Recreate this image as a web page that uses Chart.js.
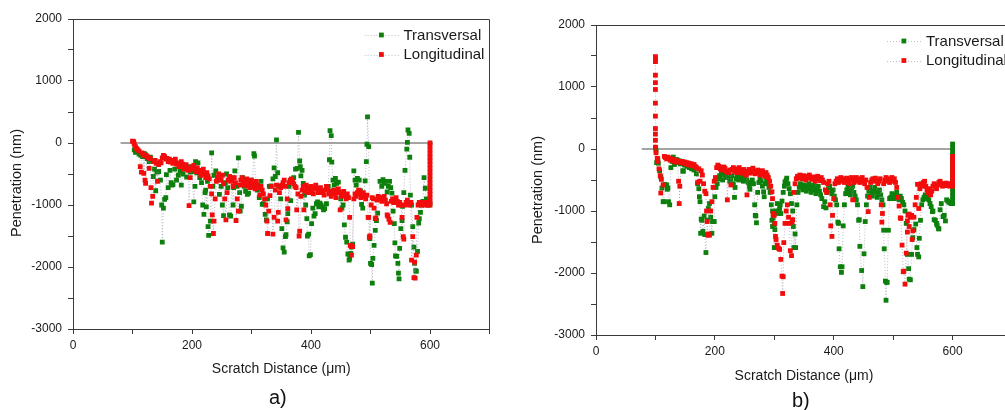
<!DOCTYPE html>
<html>
<head>
<meta charset="utf-8">
<script src="https://cdn.jsdelivr.net/npm/chart.js@4.4.1/dist/chart.umd.min.js"></script>
<style>
  html, body { margin: 0; padding: 0; background: #fff; width: 1005px; height: 410px; overflow: hidden; position: relative; }
  canvas { position: absolute; top: 0; }
  #chartA { left: 0; }
  #chartB { left: 520px; }
  .tag { position: absolute; font: 20px "Liberation Sans", Arial, sans-serif; line-height: 20px; color: #111; }
</style>
</head>
<body>
<canvas id="chartA" width="500" height="410"></canvas>
<canvas id="chartB" width="510" height="410"></canvas>
<div class="tag" style="left:269px;top:387px">a)</div>
<div class="tag" style="left:792px;top:390px">b)</div>
<script>
// Scratch test penetration profiles: [distance µm, penetration nm]
const seriesNames = ['Transversal', 'Longitudinal'];
const xTicksLabelled = [0, 200, 400, 600];
const yTicksLabelled = [-3000, -2000, -1000, 0, 1000, 2000];

// Sample a)
const aTransversal = [
  [103,-110],[105,-150],[108,-140],[111,-180],[114,-200],[117,-220],[120,-170],[122,-190],[125,-250],[128,-300],
  [130,-230],[133,-300],[135,-540],[137,-420],[139,-770],[141,-470],[144,-460],[147,-600],[149,-1000],[150,-1600],
  [152,-1050],[154,-910],[156,-880],[157,-510],[160,-720],[163,-440],[165,-640],[166,-680],[168,-670],[171,-420],
  [174,-600],[177,-520],[180,-450],[182,-680],[185,-500],[188,-420],[191,-550],[194,-380],[197,-470],[200,-460],
  [203,-950],[205,-700],[206,-300],[208,-480],[210,-320],[213,-560],[216,-640],[218,-1000],[220,-1150],[222,-800],
  [223,-760],[224,-1030],[226,-620],[227,-1350],[228,-1490],[231,-1260],[233,-160],[235,-700],[237,-520],[240,-450],
  [243,-600],[246,-830],[249,-700],[251,-1000],[253,-1170],[256,-640],[258,-500],[260,-720],[263,-1160],[265,-1180],
  [267,-560],[269,-1000],[270,-720],[272,-450],[275,-700],[278,-240],[280,-800],[281,-1100],[283,-1020],[285,-560],
  [288,-700],[290,-780],[293,-830],[295,-810],[298,-600],[301,-700],[304,-170],[305,-210],[307,-680],[310,-760],
  [313,-880],[316,-620],[318,-990],[320,-980],[323,-1150],[325,-1240],[327,-900],[330,-700],[333,-690],[336,-580],
  [338,-400],[340,-540],[342,50],[344,-480],[346,-700],[349,-900],[351,-1380],[353,-1690],[355,-1760],[357,-1510],
  [358,-1480],[360,-1270],[361,-1140],[363,-700],[366,-930],[368,-620],[371,-560],[374,-420],[377,-410],[379,170],
  [381,-290],[382,-380],[383,-530],[385,-440],[387,-650],[389,-840],[391,-1000],[393,-1220],[394,-1500],[396,-1470],
  [397,-1820],[399,-1800],[401,-1300],[403,-1050],[405,-1180],[407,-1140],[409,-980],[411,-950],[413,-1030],[415,-970],
  [417,-1000],[419,-1030],[421,-1080],[423,-1060],[426,-980],[429,-700],[431,-270],[432,200],[434,120],[435,-310],
  [437,-600],[439,-680],[441,-570],[443,-650],[446,-630],[448,-800],[450,-900],[452,-1050],[454,-1000],[456,-1320],
  [458,-1520],[460,-1600],[462,-1790],[464,-1890],[465,-1860],[467,-1780],[468,-1680],[470,-1630],[472,-450],[474,-600],
  [476,-680],[478,-570],[481,-600],[483,-770],[485,-990],[487,-1050],[489,-850],[491,-610],[493,-300],[494,-20],
  [495,420],[497,-60],[499,-1540],[500,-1940],[502,-1960],[503,-2260],[504,-1860],[506,-1650],[508,-1410],[510,-1250],
  [512,-1130],[514,-900],[516,-620],[519,-700],[521,-590],[523,-650],[525,-620],[528,-790],[530,-700],[532,-620],
  [534,-720],[536,-810],[538,-1100],[540,-1300],[541,-1610],[542,-1820],[544,-1830],[546,-1940],[547,-2100],[548,-2190],
  [549,-1700],[551,-1380],[553,-1250],[554,-1020],[556,-800],[558,-440],[561,-100],[562,10],[563,210],[565,155],
  [566,-230],[567,-840],[569,-1000],[571,-1350],[573,-1680],[574,-1940],[576,-2060],[577,-2070],[579,-1750],[581,-1290],
  [582,-1220],[584,-1120],[586,-1000],[588,-940],[590,-560],[592,-730],[594,-900],[596,-980],[598,-1000],[600,-980]
];
const aLongitudinal = [
  [100,30],[102,20],[103,-20],[105,-60],[107,-90],[109,-110],[111,-130],[113,-380],[115,-470],[116,-160],
  [118,-180],[119,-490],[120,-200],[121,-600],[122,-650],[124,-210],[126,-230],[128,-410],[130,-250],[131,-720],
  [132,-970],[134,-860],[136,-300],[138,-280],[140,-330],[142,-620],[144,-350],[146,-300],[148,-320],[150,-240],
  [152,-200],[154,-220],[156,-260],[158,-250],[160,-300],[162,-260],[164,-310],[166,-280],[168,-330],[170,-300],
  [172,-260],[174,-340],[176,-320],[178,-380],[180,-360],[182,-300],[184,-340],[186,-420],[188,-380],[190,-350],
  [192,-400],[194,-440],[195,-1010],[197,-560],[199,-420],[201,-380],[203,-360],[205,-420],[207,-460],[209,-400],
  [211,-440],[213,-480],[215,-520],[217,-450],[219,-420],[221,-500],[223,-560],[225,-480],[227,-530],[229,-580],
  [231,-700],[233,-820],[234,-1160],[236,-1460],[237,-1260],[239,-900],[241,-620],[243,-560],[245,-500],[247,-560],
  [249,-600],[251,-520],[253,-660],[255,-900],[257,-1240],[259,-800],[261,-600],[263,-540],[265,-620],[267,-580],
  [269,-700],[271,-560],[273,-640],[274,-1250],[276,-900],[278,-1100],[280,-680],[282,-600],[284,-560],[286,-640],
  [288,-680],[290,-620],[292,-580],[294,-700],[296,-640],[298,-720],[300,-600],[302,-660],[304,-700],[306,-740],
  [308,-620],[310,-680],[312,-720],[314,-840],[316,-700],[318,-760],[320,-820],[322,-900],[324,-1000],[326,-1260],
  [327,-1460],[329,-1100],[331,-850],[333,-700],[336,-1470],[338,-1200],[340,-760],[342,-680],[344,-1260],[345,-1120],
  [347,-800],[349,-720],[351,-680],[353,-640],[355,-600],[357,-700],[358,-1240],[360,-900],[361,-1060],[363,-640],
  [365,-600],[367,-580],[369,-620],[371,-660],[373,-700],[375,-720],[376,-1080],[378,-820],[380,-1500],[381,-1420],
  [383,-860],[385,-760],[387,-700],[388,-1080],[390,-780],[392,-680],[394,-720],[396,-800],[398,-750],[400,-700],
  [402,-760],[404,-820],[406,-720],[408,-680],[410,-740],[412,-800],[414,-760],[416,-720],[418,-800],[420,-780],
  [422,-840],[424,-760],[426,-700],[428,-740],[430,-820],[432,-780],[434,-860],[436,-800],[438,-760],[440,-820],
  [442,-880],[444,-780],[446,-740],[448,-800],[449,-1080],[451,-860],[453,-820],[455,-780],[457,-840],[459,-900],
  [461,-820],[463,-880],[465,-1200],[466,-1650],[467,-1660],[468,-1810],[470,-1670],[472,-900],[474,-820],[476,-860],
  [478,-800],[480,-760],[482,-820],[484,-880],[486,-840],[488,-800],[490,-860],[492,-900],[494,-840],[496,-1200],
  [497,-1200],[498,-1520],[499,-1500],[501,-1000],[503,-880],[505,-900],[506,-1050],[508,-1220],[509,-1210],[511,-920],
  [513,-860],[515,-900],[517,-880],[519,-940],[521,-900],[523,-860],[525,-920],[527,-980],[528,-1160],[529,-1180],
  [531,-1230],[533,-1280],[535,-940],[537,-900],[539,-960],[541,-920],[543,-880],[545,-940],[547,-1000],[549,-960],
  [551,-1000],[553,-1200],[555,-1510],[556,-1550],[558,-1000],[560,-960],[562,-920],[564,-980],[566,-1000],[568,-960],
  [569,-1890],[571,-1510],[573,-2170],[574,-1920],[575,-2180],[577,-1810],[578,-1200],[580,-1000],[582,-960],[584,-980],
  [586,-1000],[588,-960],[590,-980],[592,-1000],[594,-960],[596,-1000],[598,-980],[600,-1000],[600,-950],[600,-890],
  [600,-830],[600,-770],[600,-710],[600,-650],[600,-590],[600,-530],[600,-470],[600,-410],[600,-350],[600,-290],
  [600,-230],[600,-170],[600,-110],[600,-50],[600,0]
];
const aZeroSpan = [80, 605];

// Sample b)
const bTransversal = [
  [100,20],[101,-20],[102,-220],[104,-160],[105,-230],[107,-350],[109,-450],[111,-630],[113,-850],[114,-850],
  [116,-570],[119,-580],[120,-650],[121,-630],[122,-850],[124,-900],[126,-300],[128,-200],[130,-130],[132,-250],
  [134,-200],[136,-170],[138,-220],[140,-190],[142,-240],[144,-210],[146,-350],[147,-360],[149,-260],[151,-230],
  [153,-280],[155,-250],[157,-300],[159,-270],[161,-320],[163,-290],[165,-340],[167,-310],[169,-400],[171,-560],
  [173,-640],[174,-770],[175,-850],[176,-1360],[177,-1130],[178,-1150],[180,-1330],[182,-1080],[183,-1380],[185,-1670],
  [187,-1150],[189,-960],[191,-880],[193,-1100],[195,-1360],[196,-1170],[197,-1170],[199,-1170],[200,-770],[202,-620],
  [204,-560],[206,-480],[208,-430],[211,-390],[213,-500],[215,-420],[217,-360],[219,-460],[221,-400],[223,-440],
  [225,-520],[227,-480],[229,-430],[231,-560],[233,-780],[234,-620],[236,-480],[238,-420],[240,-500],[242,-450],
  [244,-400],[246,-460],[248,-520],[250,-480],[252,-420],[254,-500],[256,-540],[258,-600],[259,-650],[261,-560],
  [263,-500],[265,-560],[267,-900],[268,-1070],[269,-1080],[270,-1190],[272,-700],[274,-540],[276,-480],[278,-520],
  [280,-600],[282,-690],[283,-770],[285,-560],[287,-500],[289,-540],[291,-620],[293,-700],[295,-900],[296,-1150],
  [297,-1000],[297,-1250],[298,-1110],[300,-1590],[300,-1220],[301,-1300],[303,-1000],[305,-880],[307,-1040],[309,-960],
  [310,-900],[311,-1040],[313,-840],[315,-700],[317,-600],[318,-530],[320,-500],[321,-470],[323,-560],[325,-640],
  [327,-720],[329,-880],[331,-1000],[332,-1250],[333,-1590],[335,-1370],[336,-1590],[338,-900],[340,-700],[342,-620],
  [344,-560],[346,-600],[348,-660],[350,-580],[352,-620],[354,-680],[356,-600],[358,-560],[360,-640],[362,-700],
  [364,-620],[366,-580],[368,-660],[370,-720],[372,-640],[374,-600],[376,-680],[378,-740],[380,-800],[383,-930],
  [385,-850],[387,-950],[389,-700],[391,-640],[393,-600],[395,-680],[397,-720],[399,-660],[401,-760],[403,-820],
  [405,-900],[407,-1180],[408,-1200],[409,-1610],[411,-1900],[413,-1990],[414,-1900],[416,-1240],[418,-900],[420,-720],
  [422,-660],[424,-600],[426,-680],[428,-740],[430,-660],[432,-600],[434,-700],[436,-760],[438,-820],[440,-900],
  [442,-1150],[443,-1140],[444,-1570],[447,-1960],[449,-2220],[451,-1690],[453,-1170],[455,-900],[457,-760],[459,-680],
  [461,-620],[463,-700],[465,-760],[467,-680],[469,-620],[471,-700],[473,-780],[475,-720],[477,-660],[479,-740],
  [481,-820],[483,-900],[484,-1310],[485,-1610],[487,-2130],[488,-2440],[489,-2150],[490,-2150],[492,-1310],[494,-800],
  [496,-780],[498,-720],[500,-760],[502,-800],[504,-740],[506,-700],[508,-780],[510,-820],[512,-760],[514,-800],
  [516,-860],[518,-900],[520,-1000],[522,-1200],[524,-1700],[526,-1930],[527,-2100],[529,-2110],[531,-1700],[533,-1430],
  [535,-1300],[538,-1210],[540,-1590],[541,-1700],[543,-1740],[544,-1440],[546,-1150],[548,-900],[550,-820],[552,-780],
  [554,-740],[556,-800],[558,-760],[560,-820],[562,-880],[564,-930],[566,-1010],[567,-1000],[569,-1140],[571,-1150],
  [573,-1200],[574,-1230],[576,-1280],[577,-1290],[579,-980],[581,-880],[584,-1090],[586,-1070],[588,-1160],[590,-820],
  [592,-840],[594,-860],[596,-870],[598,-880],[600,-880],[600,-820],[600,-760],[600,-700],[600,-640],[600,-580],
  [600,-520],[600,-460],[600,-400],[600,-340],[600,-280],[600,-220],[600,-160],[600,-100],[600,-40],[600,20],[600,80]
];
const bLongitudinal = [
  [100,1490],[100,1450],[100,1410],[100,1190],[100,1070],[100,960],[100,740],[100,530],[100,330],[100,240],
  [100,140],[100,30],[101,-60],[103,-150],[104,-200],[106,-320],[108,-430],[110,-490],[109,-710],[113,-580],
  [115,-120],[117,-140],[119,-160],[121,-130],[123,-150],[125,-180],[127,-160],[129,-170],[131,-200],[133,-180],
  [135,-210],[137,-190],[139,-520],[141,-600],[140,-880],[143,-220],[145,-200],[147,-230],[149,-210],[151,-240],
  [153,-220],[155,-250],[157,-230],[159,-260],[161,-240],[163,-270],[165,-250],[167,-280],[169,-300],[171,-540],
  [173,-320],[175,-520],[177,-350],[179,-420],[181,-560],[183,-680],[185,-720],[186,-1000],[187,-1170],[188,-1390],
  [189,-1370],[191,-1390],[193,-1000],[195,-850],[197,-620],[199,-520],[201,-460],[203,-300],[205,-260],[207,-280],
  [209,-320],[211,-300],[213,-340],[215,-290],[217,-310],[219,-360],[221,-820],[223,-380],[225,-340],[227,-580],
  [229,-330],[231,-300],[233,-360],[235,-320],[237,-380],[239,-350],[241,-300],[243,-340],[245,-390],[247,-360],
  [249,-330],[251,-380],[253,-420],[254,-740],[256,-360],[258,-330],[260,-390],[262,-350],[264,-310],[266,-360],
  [268,-400],[270,-370],[272,-340],[274,-380],[276,-420],[278,-390],[280,-350],[282,-400],[284,-440],[286,-380],
  [288,-420],[290,-460],[292,-520],[294,-600],[296,-690],[297,-800],[298,-1040],[300,-1070],[301,-1200],[302,-1410],
  [303,-1460],[305,-1550],[307,-1600],[309,-1620],[311,-1780],[313,-2050],[314,-2330],[315,-2060],[316,-1510],[318,-1200],
  [320,-1000],[322,-900],[324,-1100],[325,-1200],[327,-1640],[329,-1720],[330,-1180],[331,-1140],[333,-700],[335,-560],
  [337,-480],[339,-440],[341,-470],[343,-420],[345,-450],[347,-480],[349,-430],[351,-460],[353,-500],[355,-440],
  [357,-470],[359,-420],[361,-460],[363,-490],[365,-450],[367,-480],[369,-520],[371,-460],[373,-440],[375,-480],
  [377,-510],[379,-460],[381,-500],[383,-540],[386,-660],[388,-700],[390,-560],[392,-520],[394,-900],[395,-1240],
  [397,-1410],[398,-1070],[400,-800],[402,-560],[404,-520],[406,-480],[408,-540],[410,-500],[412,-460],[414,-520],
  [416,-480],[418,-540],[420,-500],[422,-470],[424,-520],[426,-560],[428,-490],[430,-460],[432,-820],[434,-540],
  [436,-500],[438,-460],[440,-520],[442,-480],[444,-540],[446,-500],[448,-460],[450,-520],[452,-560],[454,-500],
  [456,-620],[458,-1010],[460,-780],[462,-540],[464,-500],[466,-480],[468,-520],[470,-470],[472,-510],[474,-560],
  [476,-520],[478,-480],[480,-900],[481,-1180],[482,-1040],[484,-560],[486,-500],[488,-460],[490,-520],[492,-480],
  [494,-540],[496,-500],[498,-460],[500,-520],[502,-480],[504,-540],[506,-620],[508,-780],[510,-920],[512,-1110],
  [513,-1120],[515,-1550],[517,-1980],[518,-1970],[520,-2180],[522,-1680],[524,-1340],[524,-1160],[525,-1070],[527,-1050],
  [527,-1250],[529,-1100],[531,-1070],[532,-1460],[533,-1320],[535,-1100],[537,-900],[539,-780],[541,-570],[543,-960],
  [545,-640],[547,-560],[549,-600],[551,-540],[553,-520],[555,-600],[557,-660],[559,-700],[561,-640],[563,-740],
  [565,-680],[567,-600],[569,-560],[571,-600],[573,-640],[575,-580],[577,-540],[579,-520],[581,-560],[583,-600],
  [585,-560],[587,-590],[589,-550],[591,-580],[593,-560],[595,-600],[597,-570],[599,-560],[600,-600],[600,-540],
  [600,-480],[600,-420],[600,-360],[600,-300],[600,-240],[600,-180],[600,-120]
];
const bZeroSpan = [77, 601];

const FONT = '"Liberation Sans", Arial, Helvetica, sans-serif';
const AXIS = '#3a3a3a';
const INK = '#1a1a1a';
const GREEN = '#0c7f0c';
const RED = '#f20c0c';
const CONNECT = 'rgba(140,140,165,0.6)';
const Y_TITLE = 'Penetration (nm)';

const toPoints = arr => arr.map(([x, y]) => ({ x, y }));

// top and right sides of the plot frame
const framePlugin = {
  id: 'frame',
  afterDraw(chart) {
    const { ctx, chartArea: a } = chart;
    const t = Math.round(a.top) + 0.5, r = Math.round(a.right) - 0.5;
    ctx.save();
    ctx.strokeStyle = AXIS;
    ctx.lineWidth = 1;
    ctx.beginPath();
    ctx.moveTo(Math.round(a.left), t);
    ctx.lineTo(r, t);
    ctx.lineTo(r, Math.round(a.bottom));
    ctx.stroke();
    ctx.restore();
  }
};

// vertical axis title, set a little below the middle of the axis
const yTitlePlugin = {
  id: 'yTitle',
  afterDraw(chart, args, opts) {
    const { ctx, chartArea: a } = chart;
    ctx.save();
    ctx.translate(opts.x, (a.top + a.bottom) / 2 + opts.shift);
    ctx.rotate(-Math.PI / 2);
    ctx.fillStyle = INK;
    ctx.font = opts.size + 'px ' + FONT;
    ctx.textAlign = 'center';
    ctx.textBaseline = 'middle';
    ctx.fillText(Y_TITLE, 0, 0);
    ctx.restore();
  }
};

// legend drawn inside the upper right corner of the plot
const insetLegend = {
  id: 'insetLegend',
  afterDatasetsDraw(chart) {
    const { ctx, chartArea: a } = chart;
    chart.data.datasets
      .filter(d => d.legendRow !== undefined)
      .forEach(d => {
        const y = a.top + 16 + d.legendRow * 19.5;
        ctx.save();
        ctx.strokeStyle = d.borderColor;
        ctx.lineWidth = 1;
        ctx.setLineDash([1, 2]);
        ctx.beginPath();
        ctx.moveTo(a.right - 125, Math.round(y) + 0.5);
        ctx.lineTo(a.right - 90, Math.round(y) + 0.5);
        ctx.stroke();
        ctx.setLineDash([]);
        ctx.fillStyle = d.pointBackgroundColor;
        ctx.fillRect(a.right - 110.5, y - 2.4, 4.8, 4.8);
        ctx.fillStyle = INK;
        ctx.font = '15px ' + FONT;
        ctx.textBaseline = 'middle';
        ctx.textAlign = 'left';
        ctx.fillText(d.label, a.right - 86, y + 0.5);
        ctx.restore();
      });
  }
};

function profileSet(label, points, color, row, order) {
  return {
    label, data: toPoints(points), order, legendRow: row,
    showLine: true, tension: 0,
    borderColor: CONNECT, borderWidth: 1, borderDash: [1, 2],
    pointStyle: 'rect', pointRadius: 3.4, pointHoverRadius: 3.4,
    pointBackgroundColor: color, pointBorderColor: color, pointBorderWidth: 0
  };
}

function makePanel(canvasId, trans, longi, zeroSpan, box) {
  return new Chart(document.getElementById(canvasId), {
    type: 'scatter',
    data: {
      datasets: [
        profileSet(seriesNames[1], longi, RED, 1, 0),
        profileSet(seriesNames[0], trans, GREEN, 0, 1),
        {
          label: 'zero', data: zeroSpan.map(x => ({ x, y: 0 })), order: 2,
          showLine: true, pointRadius: 0, borderColor: '#4a4a4a', borderWidth: 1
        }
      ]
    },
    options: {
      responsive: false,
      animation: false,
      events: [],
      layout: { padding: { left: 0, top: box.top, right: box.right, bottom: 0 } },
      plugins: {
        legend: { display: false },
        tooltip: { enabled: false },
        yTitle: { x: box.yTitleX, shift: box.yTitleShift, size: 14.5 }
      },
      scales: {
        x: {
          type: 'linear', min: 0, max: 700,
          afterFit: s => { s.height = box.xh; },
          ticks: {
            stepSize: 100, autoSkip: false, maxRotation: 0, padding: 4, color: INK,
            font: { family: FONT, size: 12 },
            callback: v => xTicksLabelled.includes(v) ? String(v) : ''
          },
          grid: { drawOnChartArea: false, tickLength: 5, tickColor: AXIS },
          border: { color: AXIS, width: 1 },
          title: {
            display: true, text: 'Scratch Distance (\u03bcm)', color: INK,
            font: { family: FONT, size: 14 }, padding: { top: 0, bottom: box.xTitlePad }
          }
        },
        y: {
          type: 'linear', min: -3000, max: 2000,
          afterFit: s => { s.width = box.yw; },
          ticks: {
            stepSize: 500, autoSkip: false, padding: 6, color: INK,
            font: { family: FONT, size: 12 },
            callback: v => yTicksLabelled.includes(v) ? String(v) : ''
          },
          grid: { drawOnChartArea: false, tickLength: 5, tickColor: AXIS },
          border: { color: AXIS, width: 1 }
        }
      }
    },
    plugins: [framePlugin, yTitlePlugin, insetLegend]
  });
}

makePanel('chartA', aTransversal, aLongitudinal, aZeroSpan,
  { top: 19, right: 10.5, xh: 81, yw: 73, xTitlePad: 32.6, yTitleX: 17, yTitleShift: 9 });
makePanel('chartB', bTransversal, bLongitudinal, bZeroSpan,
  { top: 25, right: 18, xh: 75, yw: 76, xTitlePad: 25.6, yTitleX: 18, yTitleShift: 10 });
</script>
</body>
</html>
